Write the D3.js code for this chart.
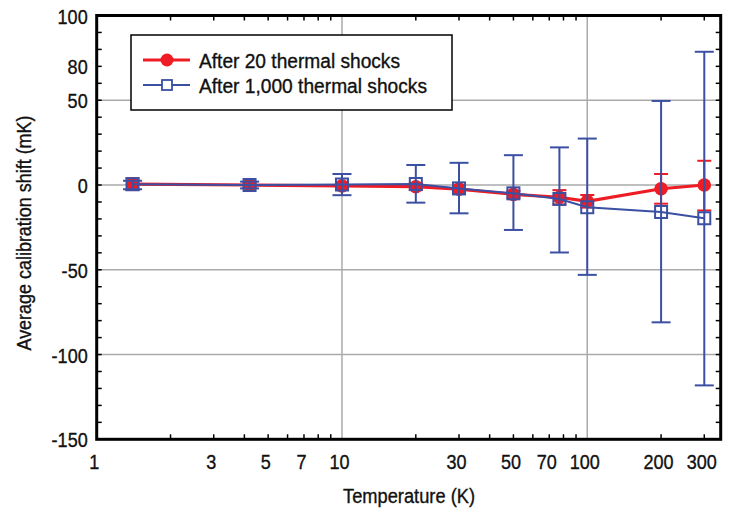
<!DOCTYPE html>
<html>
<head>
<meta charset="utf-8">
<script src="https://cdn.jsdelivr.net/npm/d3@7/dist/d3.min.js"></script>
<style>
  html, body { margin: 0; padding: 0; background: #fff; }
  svg { display: block; }
  text { font-family: "Liberation Sans", Arial, sans-serif; fill: #111; stroke: #111; stroke-width: 0.35px; }
</style>
</head>
<body>
<script>
// ---- data ----
const temperatures = [1.4, 4.2, 10, 20, 30, 50, 77, 100, 200, 300];

const after20 = [0.5, 0, -0.5, -1, -2.4, -5.5, -7.2, -9.6, -2.2, 0];
const after20Upper = [4, 1.5, 1.5, 1, 0, -3.5, -3, -5.9, 6.5, 14.3];
const after20Lower = [-3, -1.5, -2.5, -3, -4.8, -7.5, -11.4, -13.3, -11, -15];

const after1000 = [0.5, 0, 0.3, 0.6, -2, -4.9, -8.2, -13.1, -15.9, -19.6];
const after1000Upper = [2.5, 2, 6.5, 11.8, 13.1, 17.6, 22.2, 27.4, 49.6, 78.6];
const after1000Lower = [-2.5, -2, -6, -10.4, -16.7, -26.5, -39.8, -53, -81, -118.2];

const seriesNames = ["After 20 thermal shocks", "After 1,000 thermal shocks"];

const xTickValues = [1, 3, 5, 7, 10, 30, 50, 70, 100, 200, 300];
const xTickLabels = ["1", "3", "5", "7", "10", "30", "50", "70", "100", "200", "300"];
const xMinorTicks = [2, 3, 4, 5, 6, 7, 8, 9, 20, 30, 40, 50, 60, 70, 80, 90, 200, 300];
const xGridValues = [10, 100];

const yTickValues = [-150, -100, -50, 0, 50, 70, 100];
const yTickLabels = ["-150", "-100", "-50", "0", "50", "80", "100"];
const yGridValues = [-100, -50, 0, 50];
const yMinorTicks = d3.range(-140, 100, 10);

const xTitle = "Temperature (K)";
const yTitle = "Average calibration shift (mK)";

// ---- layout ----
const W = 734, H = 510;
const L = 96.7, R = 720.7, T = 15.5, B = 439.3;
const RED = "#ee1c25", BLUE = "#3b4fa3", GRID = "#aaaaaa";
const SQ = 0.86; // horizontal condensing of tick labels

const svg = d3.select("body").append("svg").attr("width", W).attr("height", H);

const x = d3.scaleLog().domain([1, 350]).range([L, R]);
const y = d3.scaleLinear().domain([-150, 100]).range([B, T]);

// gridlines
svg.append("g").selectAll("line").data(yGridValues).join("line")
  .attr("x1", L).attr("x2", R).attr("y1", d => y(d)).attr("y2", d => y(d))
  .attr("stroke", GRID).attr("stroke-width", 1.5);
svg.append("g").selectAll("line").data(xGridValues).join("line")
  .attr("x1", d => x(d)).attr("x2", d => x(d)).attr("y1", T).attr("y2", B)
  .attr("stroke", GRID).attr("stroke-width", 1.5);

// minor ticks (inward, all four sides)
const tk = 5;
const ticksG = svg.append("g").attr("stroke", "#000").attr("stroke-width", 1.5);
ticksG.selectAll(".xb").data(xMinorTicks).join("line").attr("class", "xb")
  .attr("x1", d => x(d)).attr("x2", d => x(d)).attr("y1", B).attr("y2", B - tk);
ticksG.selectAll(".xt").data(xMinorTicks).join("line").attr("class", "xt")
  .attr("x1", d => x(d)).attr("x2", d => x(d)).attr("y1", T).attr("y2", T + tk);
ticksG.selectAll(".yl").data(yMinorTicks).join("line").attr("class", "yl")
  .attr("x1", L).attr("x2", L + tk).attr("y1", d => y(d)).attr("y2", d => y(d));
ticksG.selectAll(".yr").data(yMinorTicks).join("line").attr("class", "yr")
  .attr("x1", R).attr("x2", R - tk).attr("y1", d => y(d)).attr("y2", d => y(d));

// axis labels via d3 axes (no lines)
const xAxis = d3.axisBottom(x).tickValues(xTickValues)
  .tickFormat((d, i) => xTickLabels[i]).tickSize(0).tickPadding(0);
const gx = svg.append("g").attr("transform", `translate(0,${B})`).call(xAxis);
gx.select(".domain").remove();
gx.attr("font-family", null).attr("font-size", null);
gx.selectAll("text").attr("font-size", 21).attr("dy", 0).attr("y", 30)
  .attr("x", -3 / SQ).attr("transform", `scale(${SQ},1)`);

const yAxis = d3.axisLeft(y).tickValues(yTickValues)
  .tickFormat((d, i) => yTickLabels[i]).tickSize(0).tickPadding(0);
const gy = svg.append("g").attr("transform", `translate(${L},0)`).call(yAxis);
gy.select(".domain").remove();
gy.attr("font-family", null).attr("font-size", null);
gy.selectAll("text").attr("font-size", 21).attr("x", -9 / SQ).attr("dy", "0.36em")
  .attr("transform", `scale(${SQ},1)`);

// data
const idx = d3.range(temperatures.length);
const line = vals => d3.line().x((d, i) => x(temperatures[i])).y(d => y(d))(vals);

// red series
svg.append("path").attr("d", line(after20)).attr("fill", "none")
  .attr("stroke", RED).attr("stroke-width", 3.2);
const redEb = svg.append("g").attr("stroke", RED).attr("stroke-width", 2);
redEb.selectAll(".s").data(idx).join("line").attr("class", "s")
  .attr("x1", i => x(temperatures[i])).attr("x2", i => x(temperatures[i]))
  .attr("y1", i => y(after20Upper[i])).attr("y2", i => y(after20Lower[i]));
redEb.selectAll(".u").data(idx).join("line").attr("class", "u")
  .attr("x1", i => x(temperatures[i]) - 7).attr("x2", i => x(temperatures[i]) + 7)
  .attr("y1", i => y(after20Upper[i])).attr("y2", i => y(after20Upper[i]));
redEb.selectAll(".l").data(idx).join("line").attr("class", "l")
  .attr("x1", i => x(temperatures[i]) - 7).attr("x2", i => x(temperatures[i]) + 7)
  .attr("y1", i => y(after20Lower[i])).attr("y2", i => y(after20Lower[i]));
svg.append("g").selectAll("circle").data(idx).join("circle")
  .attr("cx", i => x(temperatures[i])).attr("cy", i => y(after20[i]))
  .attr("r", 6.8).attr("fill", RED);

// blue series
svg.append("path").attr("d", line(after1000)).attr("fill", "none")
  .attr("stroke", BLUE).attr("stroke-width", 2);
const blueEb = svg.append("g").attr("stroke", BLUE).attr("stroke-width", 2);
blueEb.selectAll(".s").data(idx).join("line").attr("class", "s")
  .attr("x1", i => x(temperatures[i])).attr("x2", i => x(temperatures[i]))
  .attr("y1", i => y(after1000Upper[i])).attr("y2", i => y(after1000Lower[i]));
blueEb.selectAll(".u").data(idx).join("line").attr("class", "u")
  .attr("x1", i => x(temperatures[i]) - 9.5).attr("x2", i => x(temperatures[i]) + 9.5)
  .attr("y1", i => y(after1000Upper[i])).attr("y2", i => y(after1000Upper[i]));
blueEb.selectAll(".l").data(idx).join("line").attr("class", "l")
  .attr("x1", i => x(temperatures[i]) - 9.5).attr("x2", i => x(temperatures[i]) + 9.5)
  .attr("y1", i => y(after1000Lower[i])).attr("y2", i => y(after1000Lower[i]));
svg.append("g").selectAll("rect").data(idx).join("rect")
  .attr("x", i => x(temperatures[i]) - 6).attr("y", i => y(after1000[i]) - 6)
  .attr("width", 12).attr("height", 12)
  .attr("fill", "none").attr("stroke", BLUE).attr("stroke-width", 2);

// frame
svg.append("rect").attr("x", L).attr("y", T).attr("width", R - L).attr("height", B - T)
  .attr("fill", "none").attr("stroke", "#000").attr("stroke-width", 3);

// legend
const lg = svg.append("g");
lg.append("rect").attr("x", 131).attr("y", 35).attr("width", 321).attr("height", 75)
  .attr("fill", "#fff").attr("stroke", "#000").attr("stroke-width", 1.5);
const legendRows = [
  { name: seriesNames[0], color: RED, ly: 60, type: "circle", len: 201 },
  { name: seriesNames[1], color: BLUE, ly: 85, type: "square", len: 228 }
];
legendRows.forEach(r => {
  lg.append("line").attr("x1", 143).attr("x2", 190).attr("y1", r.ly).attr("y2", r.ly)
    .attr("stroke", r.color).attr("stroke-width", r.type === "circle" ? 3 : 2);
  if (r.type === "circle") {
    lg.append("circle").attr("cx", 167).attr("cy", r.ly).attr("r", 6.5).attr("fill", r.color);
  } else {
    lg.append("rect").attr("x", 162).attr("y", r.ly - 5).attr("width", 10).attr("height", 10)
      .attr("fill", "#fff").attr("stroke", r.color).attr("stroke-width", 1.8);
  }
  lg.append("text").attr("x", 199).attr("y", r.ly + 7.5).attr("font-size", 20)
    .attr("textLength", r.len).attr("lengthAdjust", "spacingAndGlyphs").text(r.name);
});

// titles
svg.append("text").attr("x", 409).attr("y", 503).attr("text-anchor", "middle")
  .attr("font-size", 20).attr("textLength", 132).attr("lengthAdjust", "spacingAndGlyphs")
  .text(xTitle);
svg.append("text").attr("transform", "translate(31,233) rotate(-90)")
  .attr("text-anchor", "middle").attr("font-size", 20)
  .attr("textLength", 235).attr("lengthAdjust", "spacingAndGlyphs").text(yTitle);
</script>
</body>
</html>
